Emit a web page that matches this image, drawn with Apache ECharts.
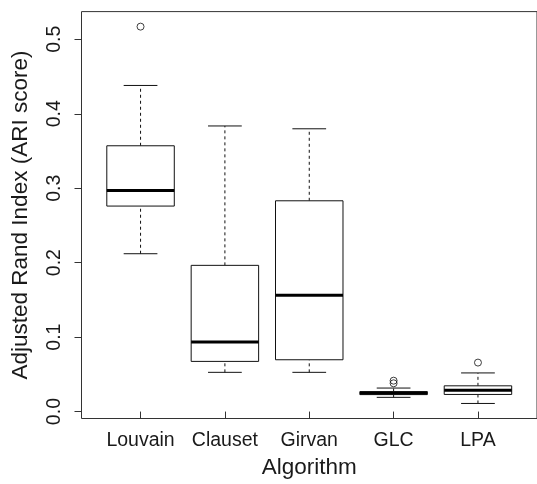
<!DOCTYPE html>
<html>
<head>
<meta charset="utf-8">
<script src="https://cdn.jsdelivr.net/npm/echarts@6/dist/echarts.min.js"></script>
<style>
html,body{margin:0;padding:0;background:#fff;}
#chart{width:537px;height:484px;}
</style>
</head>
<body>
<div id="chart"></div>
<script>
// Categories and box statistics
var categories = ['Louvain', 'Clauset', 'Girvan', 'GLC', 'LPA'];
var lowerWhisker = [0.212, 0.0527, 0.0527, 0.0191, 0.0109];
var q1 = [0.276, 0.0674, 0.0696, 0.0228, 0.0230];
var median = [0.297, 0.0933, 0.1564, 0.0250, 0.0287];
var q3 = [0.357, 0.1964, 0.2831, 0.0268, 0.0346];
var upperWhisker = [0.438, 0.3836, 0.3798, 0.0316, 0.0519];
// outliers: [category index (0-based), value]
var outliers = [[0, 0.517], [3, 0.0415], [3, 0.0380], [4, 0.0658]];
var yTicks = [0, 0.1, 0.2, 0.3, 0.4, 0.5];
var yTickLabels = ['0.0', '0.1', '0.2', '0.3', '0.4', '0.5'];

var boxData = categories.map(function (c, i) {
  return [i + 1, lowerWhisker[i], q1[i], median[i], q3[i], upperWhisker[i]];
});
var outlierData = outliers.map(function (o) { return [o[0] + 1, o[1]]; });

var textColor = '#1a1a1a';
var lineColor = '#111';
var fontFamily = 'Liberation Sans, Arial, Helvetica, sans-serif';

function renderBox(params, api) {
  var x = api.value(0);
  var lo = api.coord([x, api.value(1)]);
  var b1 = api.coord([x, api.value(2)]);
  var md = api.coord([x, api.value(3)]);
  var b3 = api.coord([x, api.value(4)]);
  var hi = api.coord([x, api.value(5)]);
  var left = api.coord([x - 0.4, 0])[0];
  var right = api.coord([x + 0.4, 0])[0];
  var cl = api.coord([x - 0.2, 0])[0];
  var cr = api.coord([x + 0.2, 0])[0];
  var cx = lo[0];
  var thin = { stroke: lineColor, lineWidth: 1, fill: null };
  var dashed = { stroke: lineColor, lineWidth: 1, lineDash: [3, 3], fill: null };
  return {
    type: 'group',
    children: [
      { type: 'line', shape: { x1: cx, y1: b3[1], x2: cx, y2: hi[1] }, style: dashed },
      { type: 'line', shape: { x1: cx, y1: lo[1], x2: cx, y2: b1[1] }, style: dashed },
      { type: 'line', shape: { x1: cl, y1: hi[1], x2: cr, y2: hi[1] }, style: thin },
      { type: 'line', shape: { x1: cl, y1: lo[1], x2: cr, y2: lo[1] }, style: thin },
      { type: 'rect', shape: { x: left, y: b3[1], width: right - left, height: b1[1] - b3[1] }, style: { stroke: lineColor, lineWidth: 1, fill: '#fff' } },
      { type: 'line', shape: { x1: left, y1: md[1], x2: right, y2: md[1] }, style: { stroke: '#000', lineWidth: 3 } }
    ]
  };
}

var chart = echarts.init(document.getElementById('chart'), null, { renderer: 'canvas' });
chart.setOption({
  animation: false,
  backgroundColor: '#fff',
  grid: {
    left: 81.5, right: -1.3, top: 11.6, bottom: 62.8,
    show: true, borderColor: '#333', borderWidth: 1, backgroundColor: 'transparent'
  },
  xAxis: {
    type: 'value', min: 0.3, max: 5.7,
    name: 'Algorithm', nameLocation: 'middle', nameGap: 37.5,
    nameTextStyle: { fontSize: 22.5, color: textColor, fontFamily: fontFamily },
    axisLine: { show: false },
    splitLine: { show: false },
    axisTick: { show: true, customValues: [1, 2, 3, 4, 5], length: 7, lineStyle: { color: '#333' } },
    axisLabel: {
      customValues: [1, 2, 3, 4, 5], margin: 12.5, fontSize: 19.5, color: textColor, fontFamily: fontFamily,
      formatter: function (v) { return categories[Math.round(v) - 1] || ''; }
    }
  },
  yAxis: {
    type: 'value', min: -0.0093, max: 0.5372,
    name: 'Adjusted Rand Index (ARI score)', nameLocation: 'middle', nameGap: 49,
    nameTextStyle: { fontSize: 22.5, color: textColor, fontFamily: fontFamily },
    axisLine: { show: false },
    splitLine: { show: false },
    axisTick: { show: true, customValues: yTicks, length: 7, lineStyle: { color: '#333' } },
    axisLabel: {
      customValues: yTicks, rotate: 90, margin: 16.5, fontSize: 19.5, color: textColor, fontFamily: fontFamily,
      formatter: function (v) {
        var idx = yTicks.findIndex(function (t) { return Math.abs(t - v) < 1e-9; });
        return idx >= 0 ? yTickLabels[idx] : '';
      }
    }
  },
  series: [
    {
      type: 'custom', renderItem: renderBox, data: boxData,
      encode: { x: 0, y: [1, 2, 3, 4, 5] }, clip: false, z: 2
    },
    {
      type: 'scatter', data: outlierData, symbol: 'circle', symbolSize: 7,
      itemStyle: { color: 'rgba(0,0,0,0)', borderColor: lineColor, borderWidth: 1 }, z: 3
    }
  ]
});
</script>
</body>
</html>
